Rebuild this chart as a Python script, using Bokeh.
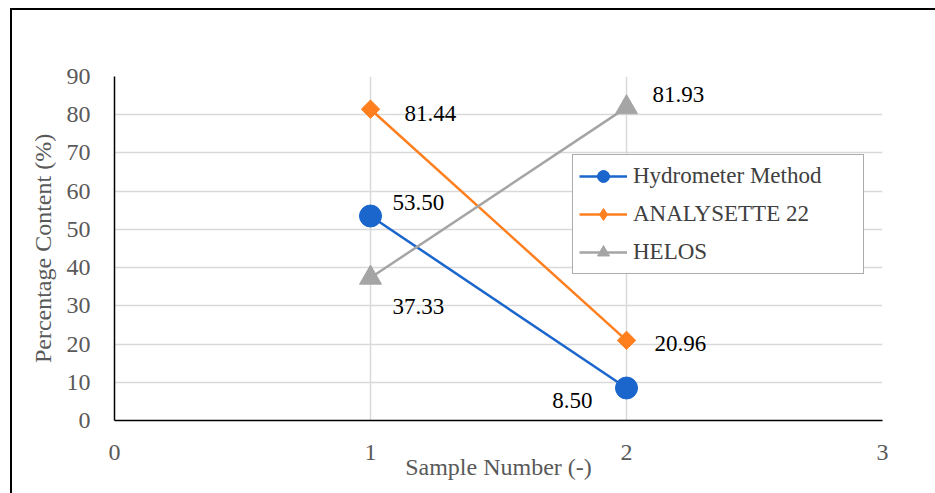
from bokeh.plotting import figure
from bokeh.models import ColumnDataSource, Legend, LegendItem, LabelSet
from bokeh.embed import file_html
from bokeh.resources import INLINE
import math

# ---- data ----
samples = [1, 2]
hydrometer = [53.50, 8.50]
analysette = [81.44, 20.96]
helos = [37.33, 81.93]
series_names = ["Hydrometer Method", "ANALYSETTE 22", "HELOS"]
x_ticks = [0, 1, 2, 3]
y_ticks = [0, 10, 20, 30, 40, 50, 60, 70, 80, 90]

# ---- styles ----
FONT = "Liberation Serif"
FONT_Q = "'Liberation Serif', serif"
colors = ["#1A66CC", "#FF7F1F", "#A5A5A5"]
markers = ["circle", "square", "triangle"]
legend_markers = ["circle", "diamond", "triangle"]
marker_sizes = [22, 13, 22]
marker_angles = [0, math.pi / 4, 0]
label_dx = [[22, -34], [34, 28], [22, 26]]
label_dy = [[-14, 12], [4, 3], [29, -13]]   # screen px, positive = down
label_align = [["left", "right"], ["left", "left"], ["left", "left"]]

p = figure(width=923, height=483, x_range=(0, 3), y_range=(0, 90),
           output_backend="svg", toolbar_location=None,
           min_border_left=102, min_border_right=53,
           min_border_top=66, min_border_bottom=73)
p.margin = (10, 0, 0, 12)
p.styles = {"outline": "2px solid black"}
p.outline_line_color = None
p.background_fill_color = "white"
p.border_fill_color = "white"

# grids
for g, t in ((p.xgrid, x_ticks), (p.ygrid, y_ticks)):
    g.ticker = t
    g.grid_line_color = "#D9D9D9"
    g.grid_line_width = 1.5

# axes
p.xaxis.ticker = x_ticks
p.yaxis.ticker = y_ticks
for ax in (p.xaxis, p.yaxis):
    ax.axis_line_color = "black"
    ax.axis_line_width = 1.5
    ax.major_tick_line_color = None
    ax.minor_tick_line_color = None
    ax.major_tick_in = 0
    ax.major_tick_out = 0
    ax.minor_tick_in = 0
    ax.minor_tick_out = 0
    ax.major_label_text_font = FONT
    ax.major_label_text_font_size = "24px"
    ax.major_label_text_color = "#595959"
    ax.axis_label_text_font = FONT
    ax.axis_label_text_font_size = "24px"
    ax.axis_label_text_color = "#595959"
    ax.axis_label_text_font_style = "normal"
    ax.major_label_standoff = 24

p.xaxis.axis_label = "Sample Number (-)"
p.yaxis.axis_label = "Percentage Content (%)"
p.xaxis.axis_label_standoff = -9
p.yaxis.axis_label_standoff = 8

all_values = [hydrometer, analysette, helos]
items = []
tx, ty, tt, tdx, tdy, tal = [], [], [], [], [], []
for i, vals in enumerate(all_values):
    ln = p.line(samples, vals, line_color=colors[i], line_width=2.5)
    # small marker (hidden beneath the main one) that supplies the legend swatch
    lg = p.scatter(samples, vals, marker=legend_markers[i], size=4,
                   fill_color=colors[i], line_color=colors[i])
    p.scatter(samples, vals, marker=markers[i], size=marker_sizes[i],
              angle=marker_angles[i],
              fill_color=colors[i], line_color=colors[i])
    items.append(LegendItem(label=series_names[i], renderers=[ln, lg]))
    for j, v in enumerate(vals):
        tx.append(samples[j])
        ty.append(v)
        tt.append(f"{v:.2f}")
        tdx.append(label_dx[i][j])
        tdy.append(-label_dy[i][j])
        tal.append(label_align[i][j])

src = ColumnDataSource(dict(x=tx, y=ty, text=tt, dx=tdx, dy=tdy, align=tal))
labels = LabelSet(x="x", y="y", text="text", x_offset="dx", y_offset="dy",
                  text_align="align", text_baseline="middle", source=src,
                  text_font=FONT_Q, text_font_size="23px", text_color="black")
p.add_layout(labels)

legend = Legend(items=items, location=(458, 146))
legend.label_text_font = FONT_Q
legend.label_text_font_size = "23px"
legend.label_text_color = "#404040"
legend.border_line_color = "#595959"
legend.border_line_width = 1.5
legend.background_fill_color = "white"
legend.background_fill_alpha = 1.0
legend.padding = 6
legend.margin = 0
legend.spacing = 8
legend.glyph_width = 48
legend.glyph_height = 30
legend.label_height = 30
legend.label_width = 224
legend.label_standoff = 6
p.add_layout(legend, "center")

open("out.html", "w").write(file_html(p, INLINE))
